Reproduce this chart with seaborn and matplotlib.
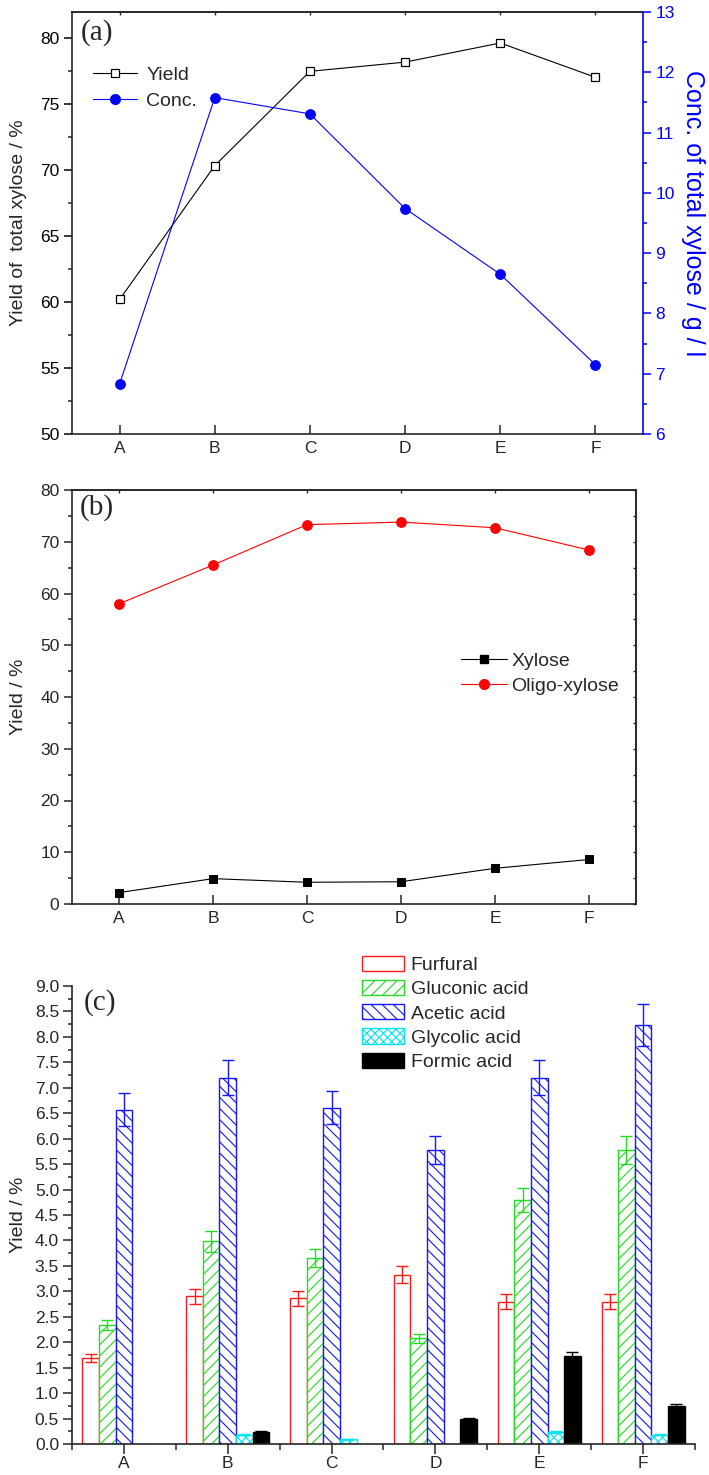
import numpy as np
import pandas as pd
import matplotlib
matplotlib.use("Agg")
import matplotlib.pyplot as plt
import seaborn as sns
from matplotlib.patches import Patch
from matplotlib.lines import Line2D
from matplotlib.ticker import MultipleLocator, FormatStrFormatter

# ---------------- data ----------------
categories = ['A', 'B', 'C', 'D', 'E', 'F']

yield_total = [60.2, 70.35, 77.5, 78.2, 79.65, 77.05]
conc_total = [6.83, 11.58, 11.31, 9.74, 8.65, 7.15]

xylose_yield = [2.2, 4.9, 4.2, 4.3, 6.9, 8.6]
oligo_yield = [58.0, 65.5, 73.3, 73.8, 72.7, 68.4]

components = ['Furfural', 'Gluconic acid', 'Acetic acid', 'Glycolic acid', 'Formic acid']
furfural = [1.69, 2.90, 2.86, 3.33, 2.80, 2.80]
furfural_err = [0.08, 0.14, 0.14, 0.17, 0.14, 0.14]
gluconic = [2.34, 3.98, 3.65, 2.08, 4.80, 5.78]
gluconic_err = [0.10, 0.20, 0.18, 0.09, 0.24, 0.27]
acetic = [6.57, 7.20, 6.61, 5.78, 7.20, 8.24]
acetic_err = [0.33, 0.35, 0.33, 0.28, 0.35, 0.41]
glycolic = [0.0, 0.18, 0.09, 0.0, 0.23, 0.18]
glycolic_err = [0.0, 0.01, 0.01, 0.0, 0.02, 0.01]
formic = [0.0, 0.24, 0.0, 0.50, 1.72, 0.75]
formic_err = [0.0, 0.01, 0.0, 0.01, 0.08, 0.03]

# ---------------- style ----------------
sns.set_theme(style="ticks")
plt.rcParams['font.family'] = ['Liberation Sans', 'DejaVu Sans']
plt.rcParams['axes.linewidth'] = 1.2
plt.rcParams['hatch.linewidth'] = 0.8

W, H = 709, 1475
fig = plt.figure(figsize=(W / 100, H / 100), dpi=100)


def rect(l, r, t, b):
    return [l / W, 1 - b / H, (r - l) / W, (b - t) / H]


pos = np.arange(len(categories))
SERIF = ['Liberation Serif', 'DejaVu Serif']

# ================= panel (a) =================
axa = fig.add_axes(rect(72, 643, 12, 434))
axa2 = axa.twinx()
sns.lineplot(x=pos, y=yield_total, ax=axa, color='black', linewidth=0.8,
             marker='s', markersize=5.5, markerfacecolor='white',
             markeredgecolor='black', markeredgewidth=0.9, legend=False)
sns.lineplot(x=pos, y=conc_total, ax=axa2, color='#0000FF', linewidth=0.8,
             marker='o', markersize=7, markerfacecolor='#0000FF',
             markeredgecolor='#0000FF', legend=False)
axa.set_xlim(-0.5, 5.5)
axa.set_ylim(50, 82)
axa2.set_ylim(6, 13)
axa.set_xticks(pos)
axa.set_xticklabels(categories)
axa.yaxis.set_major_locator(MultipleLocator(5))
axa.yaxis.set_minor_locator(MultipleLocator(2.5))
axa2.yaxis.set_major_locator(MultipleLocator(1))
axa2.yaxis.set_minor_locator(MultipleLocator(0.5))
axa.tick_params(axis='y', which='major', direction='out', length=6, width=1.1,
                labelsize=12.5, pad=3, colors='black')
axa.tick_params(axis='y', which='minor', direction='out', length=3, width=1.1)
axa.tick_params(axis='x', which='major', direction='in', length=6.5, width=1.1,
                labelsize=12.5, pad=5)
axa2.tick_params(axis='y', which='major', direction='out', length=6, width=1.1,
                 labelsize=12.5, pad=3, colors='#0000FF')
axa2.tick_params(axis='y', which='minor', direction='out', length=3, width=1.1,
                 colors='#0000FF')
axa.spines['right'].set_visible(False)
for s in ['left', 'top', 'bottom']:
    axa2.spines[s].set_visible(False)
axa2.spines['right'].set_color('#0000FF')
axa2.spines['right'].set_linewidth(1.2)
sec = axa.secondary_xaxis('top')
sec.set_xticks(pos)
sec.set_xticklabels([])
sec.tick_params(direction='in', length=2.5, width=1.0)
axa.set_ylabel('Yield of  total xylose / %', fontsize=14)
axa.yaxis.set_label_coords((27 - 72) / 571, 0.5)
axa2.set_ylabel('Conc. of total xylose / g / l', fontsize=18, color='#0000FF',
                rotation=270, va='bottom')
axa2.yaxis.set_label_coords((681 - 72) / 571, 0.524)
axa.set_xlabel('')
fig.text(81 / W, 1 - 33 / H, '(a)', family=SERIF, fontsize=21, va='center', ha='left')
ha_handles = [
    Line2D([], [], color='black', linewidth=0.8, marker='s', markersize=5.5,
           markerfacecolor='white', markeredgecolor='black', markeredgewidth=0.9),
    Line2D([], [], color='#0000FF', linewidth=0.8, marker='o', markersize=7,
           markerfacecolor='#0000FF', markeredgecolor='#0000FF'),
]
fig.legend(ha_handles, ['Yield', 'Conc.'], loc='upper left',
           bbox_to_anchor=(93 / W, 1 - 66 / H), bbox_transform=fig.transFigure,
           frameon=False, fontsize=14, handlelength=2.25, handletextpad=0.5,
           labelspacing=0.45, borderpad=0, borderaxespad=0)

# ================= panel (b) =================
axb = fig.add_axes(rect(72, 636, 490, 904))
sns.lineplot(x=pos, y=xylose_yield, ax=axb, color='black', linewidth=0.8,
             marker='s', markersize=5.5, markerfacecolor='black',
             markeredgecolor='black', legend=False)
sns.lineplot(x=pos, y=oligo_yield, ax=axb, color='#FF0000', linewidth=0.8,
             marker='o', markersize=7, markerfacecolor='#FF0000',
             markeredgecolor='#FF0000', legend=False)
axb.set_xlim(-0.5, 5.5)
axb.set_ylim(0, 80)
axb.set_xticks(pos)
axb.set_xticklabels(categories)
axb.yaxis.set_major_locator(MultipleLocator(10))
axb.yaxis.set_minor_locator(MultipleLocator(5))
axb.tick_params(axis='y', which='major', direction='out', length=6, width=1.1,
                labelsize=12.5, pad=3)
axb.tick_params(axis='y', which='minor', direction='out', length=3, width=1.1)
axb.tick_params(axis='x', which='major', direction='in', length=6.5, width=1.1,
                labelsize=12.5, pad=5)
secb = axb.secondary_xaxis('top')
secb.set_xticks(pos)
secb.set_xticklabels([])
secb.tick_params(direction='in', length=2.5, width=1.0)
secby = axb.secondary_yaxis('right')
secby.set_yticks(np.arange(0, 81, 5))
secby.set_yticklabels([])
secby.tick_params(direction='in', length=2.5, width=1.0)
axb.set_ylabel('Yield / %', fontsize=14)
axb.yaxis.set_label_coords((27 - 72) / 564, 0.5)
axb.set_xlabel('')
fig.text(80 / W, 1 - 508 / H, '(b)', family=SERIF, fontsize=21, va='center', ha='left')
hb_handles = [
    Line2D([], [], color='black', linewidth=0.8, marker='s', markersize=5.5,
           markerfacecolor='black', markeredgecolor='black'),
    Line2D([], [], color='#FF0000', linewidth=0.8, marker='o', markersize=7,
           markerfacecolor='#FF0000', markeredgecolor='#FF0000'),
]
fig.legend(hb_handles, ['Xylose', 'Oligo-xylose'], loc='upper left',
           bbox_to_anchor=(461 / W, 1 - 652 / H), bbox_transform=fig.transFigure,
           frameon=False, fontsize=14, handlelength=2.35, handletextpad=0.25,
           labelspacing=0.4, borderpad=0, borderaxespad=0)

# ================= panel (c) =================
axc = fig.add_axes(rect(72, 695, 986, 1444))
series = [furfural, gluconic, acetic, glycolic, formic]
errors = [furfural_err, gluconic_err, acetic_err, glycolic_err, formic_err]
rows = []
for comp, vals in zip(components, series):
    for cat, v in zip(categories, vals):
        rows.append({'category': cat, 'component': comp, 'value': v})
df_c = pd.DataFrame(rows)

edge_cols = ['#FF1A1A', '#22DD22', '#1515FF', '#00E5EE', '#000000']
face_cols = ['white', 'white', 'white', 'white', '#000000']
hatches = ['', '///', '\\\\\\', 'xxxx', '']
err_cols = ['#FF1A1A', '#22DD22', '#1515FF', '#00E5EE', '#000000']

sns.barplot(data=df_c, x='category', y='value', hue='component', order=categories,
            hue_order=components, width=0.8, errorbar=None, legend=False,
            palette=edge_cols, ax=axc)

for cont, ec, fc, ht, vals, errs, erc in zip(axc.containers, edge_cols, face_cols,
                                            hatches, series, errors, err_cols):
    xs, ys, es = [], [], []
    for p, v, e in zip(cont.patches, vals, errs):
        p.set_facecolor(fc)
        p.set_edgecolor(ec)
        p.set_hatch(ht)
        p.set_linewidth(1.0)
        if v <= 0:
            p.set_visible(False)
        else:
            xs.append(p.get_x() + p.get_width() / 2)
            ys.append(p.get_height())
            es.append(e)
    axc.errorbar(xs, ys, yerr=es, fmt='none', ecolor=erc, elinewidth=1.0,
                 capsize=4, capthick=1.0, zorder=3)

axc.set_xlim(-0.5, 5.5)
axc.set_ylim(0, 9.0)
axc.yaxis.set_major_locator(MultipleLocator(0.5))
axc.yaxis.set_minor_locator(MultipleLocator(0.25))
axc.yaxis.set_major_formatter(FormatStrFormatter('%.1f'))
axc.set_xticks(np.arange(-0.5, 6.0, 1.0), minor=True)
axc.tick_params(axis='y', which='major', direction='out', length=6.3, width=1.1,
                labelsize=12.5, pad=3)
axc.tick_params(axis='y', which='minor', direction='out', length=3, width=1.1)
axc.tick_params(axis='x', which='major', direction='out', length=7, width=1.1,
                labelsize=12.5, pad=1.5)
axc.tick_params(axis='x', which='minor', direction='out', length=4.5, width=1.1)
axc.spines['top'].set_visible(False)
axc.spines['right'].set_visible(False)
axc.set_ylabel('Yield / %', fontsize=14)
axc.yaxis.set_label_coords((27 - 72) / 623, 0.5)
axc.set_xlabel('')
fig.text(84 / W, 1 - 1003 / H, '(c)', family=SERIF, fontsize=21, va='center', ha='left')

hc_handles = [Patch(facecolor=fc, edgecolor=ec, hatch=ht, linewidth=1.0)
              for fc, ec, ht in zip(face_cols, edge_cols, hatches)]
fig.legend(hc_handles, components, loc='upper left',
           bbox_to_anchor=(362 / W, 1 - 956 / H), bbox_transform=fig.transFigure,
           frameon=False, fontsize=14, handlelength=2.15, handleheight=0.82,
           handletextpad=0.35, labelspacing=0.3, borderpad=0, borderaxespad=0)

fig.savefig('out.png', dpi=100)
